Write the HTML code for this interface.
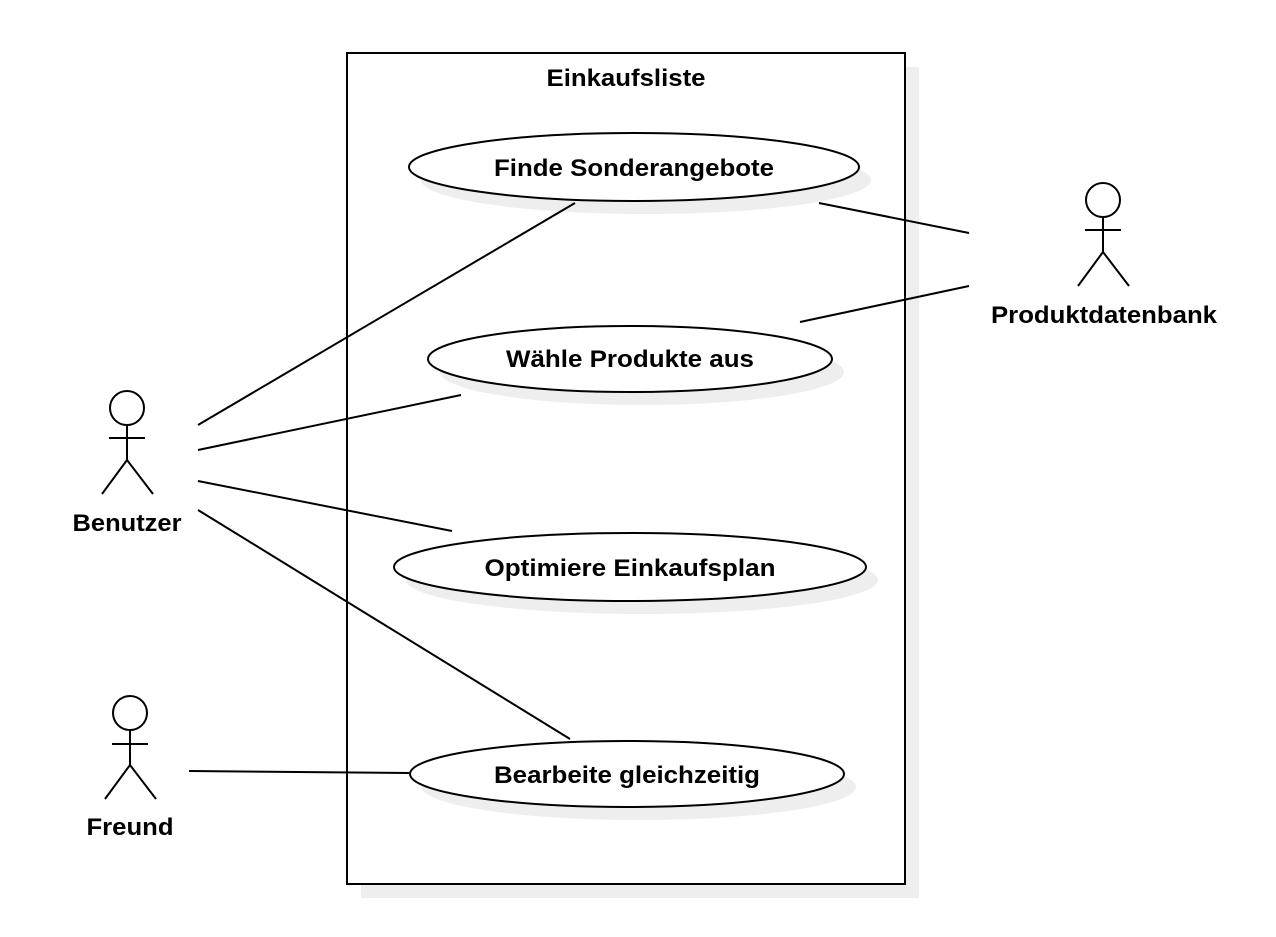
<!DOCTYPE html>
<html><head><style>body{margin:0;background:#fff}</style></head><body>
<svg width="1276" height="932" xmlns="http://www.w3.org/2000/svg" font-family="Liberation Sans, sans-serif" font-weight="bold">
<rect x="361" y="67" width="558" height="831" fill="#eeeeee"/>
<rect x="347" y="53" width="558" height="831" fill="#fff" stroke="#000" stroke-width="2"/>
<text x="626" y="86" font-size="24" text-anchor="middle" textLength="159" lengthAdjust="spacingAndGlyphs">Einkaufsliste</text>
<g fill="#eeeeee">
<ellipse cx="646" cy="180" rx="225" ry="34"/>
<ellipse cx="642" cy="372" rx="202" ry="33"/>
<ellipse cx="642" cy="580" rx="236" ry="34"/>
<ellipse cx="639" cy="787" rx="217" ry="33"/>
</g>
<g fill="#fff" stroke="#000" stroke-width="2">
<ellipse cx="634" cy="167" rx="225" ry="34"/>
<ellipse cx="630" cy="359" rx="202" ry="33"/>
<ellipse cx="630" cy="567" rx="236" ry="34"/>
<ellipse cx="627" cy="774" rx="217" ry="33"/>
</g>
<g font-size="24" text-anchor="middle" lengthAdjust="spacingAndGlyphs">
<text x="634" y="176" textLength="280" lengthAdjust="spacingAndGlyphs">Finde Sonderangebote</text>
<text x="630" y="367" textLength="248" lengthAdjust="spacingAndGlyphs">Wähle Produkte aus</text>
<text x="630" y="576" textLength="291" lengthAdjust="spacingAndGlyphs">Optimiere Einkaufsplan</text>
<text x="627" y="783" textLength="266" lengthAdjust="spacingAndGlyphs">Bearbeite gleichzeitig</text>
</g>
<g stroke="#000" stroke-width="2" fill="none">
<line x1="198" y1="425" x2="575" y2="203"/>
<line x1="198" y1="450" x2="461" y2="395"/>
<line x1="198" y1="481" x2="452" y2="531"/>
<line x1="198" y1="510" x2="570" y2="739"/>
<line x1="189" y1="771" x2="409" y2="773"/>
<line x1="819" y1="203" x2="969" y2="233"/>
<line x1="800" y1="322" x2="969" y2="286"/>
<circle cx="127" cy="408" r="17"/><line x1="127" y1="425" x2="127" y2="460"/><line x1="109" y1="438" x2="145" y2="438"/><polyline points="102,494 127,460 153,494"/>
<circle cx="130" cy="713" r="17"/><line x1="130" y1="730" x2="130" y2="765"/><line x1="112" y1="744" x2="148" y2="744"/><polyline points="105,799 130,765 156,799"/>
<circle cx="1103" cy="200" r="17"/><line x1="1103" y1="217" x2="1103" y2="252"/><line x1="1085" y1="230" x2="1121" y2="230"/><polyline points="1078,286 1103,252 1129,286"/>
</g>
<g font-size="24" text-anchor="middle">
<text x="127" y="531" textLength="109" lengthAdjust="spacingAndGlyphs">Benutzer</text>
<text x="130" y="835" textLength="87" lengthAdjust="spacingAndGlyphs">Freund</text>
<text x="1104" y="323" textLength="226" lengthAdjust="spacingAndGlyphs">Produktdatenbank</text>
</g>
</svg>
</body></html>
